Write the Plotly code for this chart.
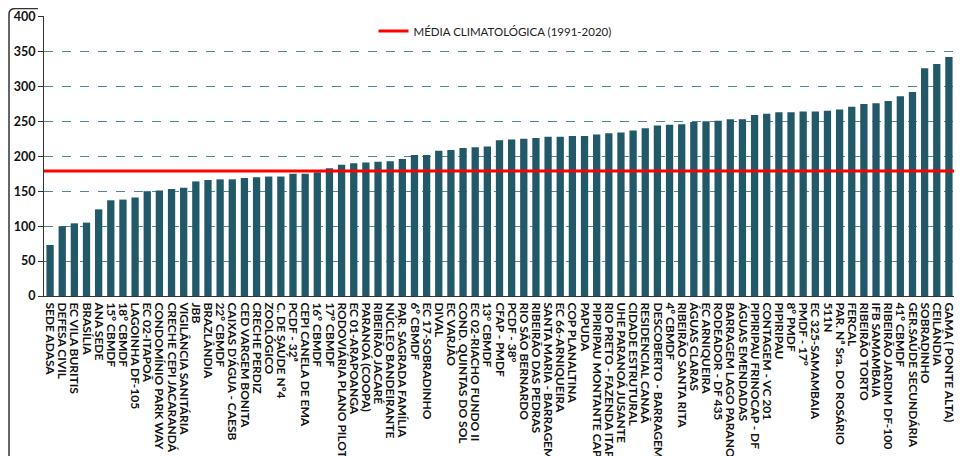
import plotly.graph_objects as go

stations = [
    "SEDE ADASA", "DEFESA CIVIL", "EC VILA BURITIS", "BRASÍLIA", "ANA SEDE",
    "15º CBMDF", "18º CBMDF", "LAGOINHA DF-105", "EC 02-ITAPOÃ", "CONDOMÍNIO PARK WAY",
    "CRECHE CEPI JACARANDÁ", "VIGILÂNCIA SANITÁRIA", "JBB", "BRAZLÂNDIA", "22º CBMDF",
    "CAIXAS D'ÁGUA - CAESB", "CED VARGEM BONITA", "CRECHE PERDIZ", "ZOOLÓGICO", "C. DE SAÚDE Nº4",
    "PCDF - 32ª", "CEPI CANELA DE EMA", "16º CBMDF", "17º CBMDF", "RODOVIÁRIA PLANO PILOTO",
    "EC 01-ARAPOANGA", "PARANOÁ (COOPA)", "RIBEIRÃO JACARÉ", "NÚCLEO BANDEIRANTE", "PAR. SAGRADA FAMÍLIA",
    "6º CBMDF", "EC 17-SOBRADINHO", "DIVAL", "EC VARJÃO", "COND. QUINTAS DO SOL",
    "EC 02-RIACHO FUNDO II", "13° CBMDF", "CFAP - PMDF", "PCDF - 38°", "RIO SÃO BERNARDO",
    "RIBEIRÃO DAS PEDRAS", "SANTA MARIA - BARRAGEM", "EC 66-ARNIQUEIRA", "COP PLANALTINA", "PAPUDA",
    "PIPIRIPAU MONTANTE CAPTAÇÃO", "RIO PRETO - FAZENDA ITAPETI", "UHE PARANOÁ JUSANTE", "CIDADE ESTRUTURAL", "RESIDENCIAL CANAÃ",
    "DESCOBERTO - BARRAGEM", "4º CBMDF", "RIBEIRÃO SANTA RITA", "ÁGUAS CLARAS", "EC ARNIQUEIRA",
    "RODEADOR - DF 435", "BARRAGEM LAGO PARANOÁ", "ÁGUAS EMENDADAS", "PIPIRIPAU FRINOCAP - DF", "CONTAGEM - VC 201",
    "PIPIRIPAU", "8º PMDF", "PMDF - 17º", "EC 325-SAMAMBAIA", "511N",
    "PAR. Nª Sra. DO ROSÁRIO", "FERCAL", "RIBEIRÃO TORTO", "IFB SAMAMBAIA", "RIBEIRÃO JARDIM DF-100",
    "41º CBMDF", "GER.SAÚDE SECUNDÁRIA", "SOBRADINHO", "CEILÂNDIA", "GAMA ( PONTE ALTA)",
]

rainfall = [
    73, 100, 104, 105, 124,
    137, 138, 141, 150, 151,
    153, 155, 164, 166, 167,
    167, 169, 170, 171, 171,
    175, 175, 177, 183, 188,
    190, 191, 192, 193, 196,
    202, 202, 208, 209, 212,
    213, 214, 223, 224, 225,
    226, 228, 228, 229, 229,
    231, 233, 234, 237, 240,
    244, 245, 246, 249, 250,
    251, 253, 253, 259, 261,
    263, 263, 264, 264, 265,
    267, 271, 275, 276, 279,
    286, 292, 326, 332, 342,
]

climatological_mean = 179
mean_label = "MÉDIA CLIMATOLÓGICA (1991-2020)"
y_ticks = [0, 50, 100, 150, 200, 250, 300, 350, 400]

fig = go.Figure()
fig.add_trace(go.Bar(
    x=stations, y=rainfall,
    marker=dict(color="#215968", line=dict(width=0)),
    showlegend=False,
))
# legend entry for the mean line
fig.add_trace(go.Scatter(
    x=[None], y=[None], mode="lines", name=mean_label,
    line=dict(color="#ff0000", width=3),
))
fig.add_shape(type="line", xref="paper", yref="y", x0=0, x1=1,
              y0=climatological_mean, y1=climatological_mean,
              line=dict(color="#ff0000", width=3), layer="above")

# page body has an 8px margin, figure coordinates compensate for it
W, H = 962, 456
L, R, T, B = 36, 15, 8, 168
pw, ph = W - L - R, H - T - B
def px(x): return (x - L) / pw
def py(y): return (H - B - y) / ph
path = (f"M {px(1)},{py(470)} L {px(1)},{py(6)} "
        f"Q {px(1)},{py(0.5)} {px(8)},{py(0.5)} L {px(30)},{py(0.5)}")
fig.add_shape(type="path", xref="paper", yref="paper", path=path,
              line=dict(color="#333333", width=1.5))

fig.update_layout(
    width=W, height=H,
    margin=dict(l=L, r=R, t=T, b=B),
    paper_bgcolor="white", plot_bgcolor="white",
    bargap=0.4,
    font=dict(family="Lato, Liberation Sans, sans-serif", color="#111111"),
    legend=dict(x=px(487), y=py(23), xanchor="center", yanchor="middle",
                font=dict(size=11.5, family="Lato, sans-serif", color="#222222"),
                bgcolor="rgba(255,255,255,0)", itemwidth=30),
    xaxis=dict(
        tickangle=90, automargin=False,
        tickmode="array", tickvals=stations, ticktext=stations,
        tickfont=dict(size=12, family="Lato, sans-serif", color="#111111", weight="bold"),
        ticklabelstandoff=3,
        showline=True, linecolor="#333333", linewidth=1,
        ticks="", showgrid=False,
    ),
    yaxis=dict(
        range=[0, 400.8], tickvals=y_ticks, automargin=False,
        tickfont=dict(size=12.5, family="Lato, sans-serif", color="#111111", weight="bold"),
        showline=True, linecolor="#333333", linewidth=1,
        ticks="outside", ticklen=5, tickcolor="#333333",
        showgrid=True, gridcolor="#4f8796", griddash="dash", gridwidth=1,
        zeroline=False,
    ),
)

fig.write_html("out.html")
